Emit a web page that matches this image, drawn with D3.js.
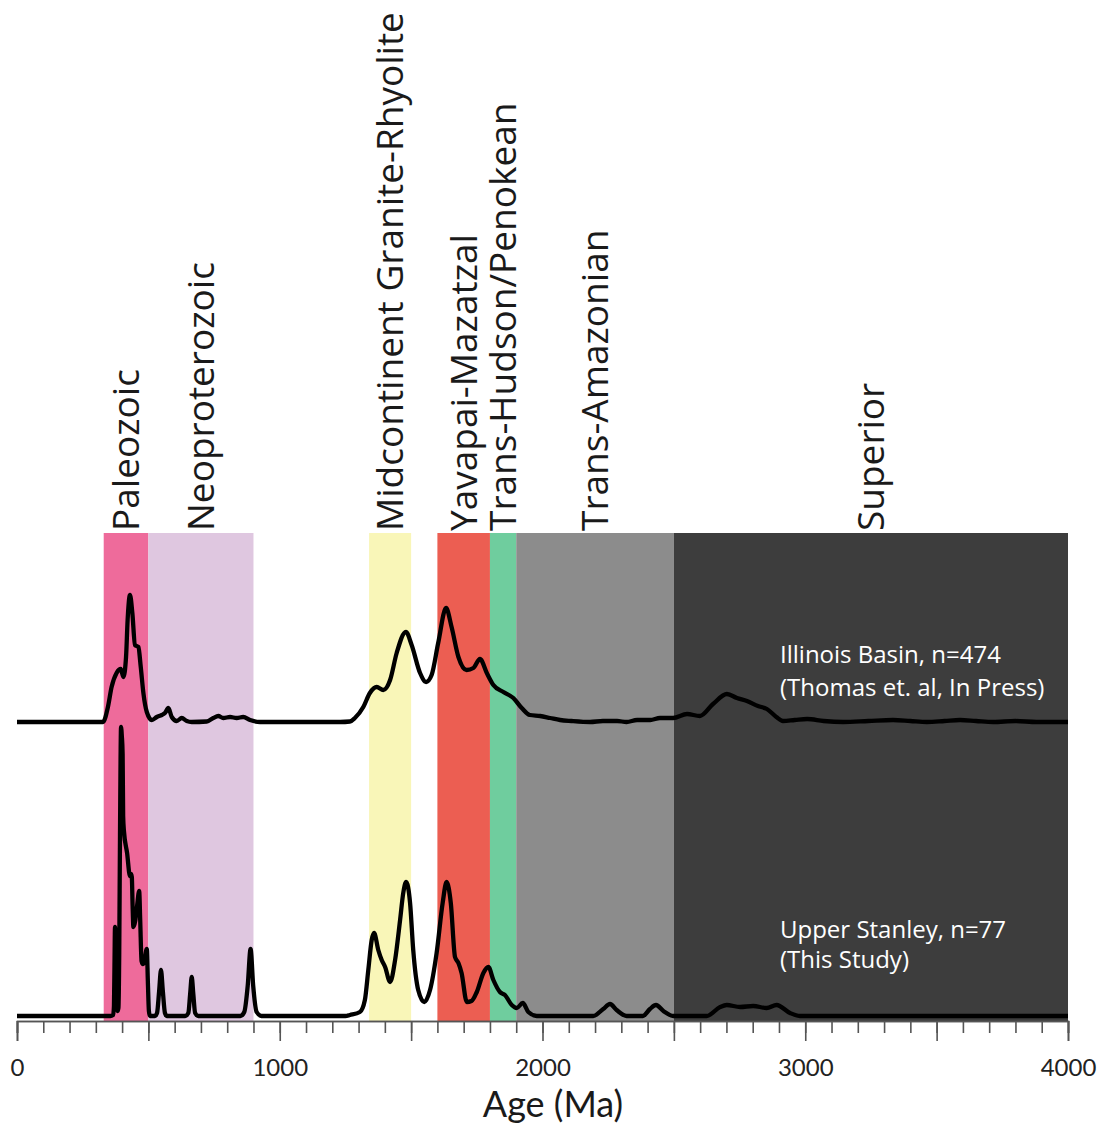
<!DOCTYPE html>
<html>
<head>
<meta charset="utf-8">
<script src="https://cdn.jsdelivr.net/npm/d3@7"></script>
<style>
  html, body { margin: 0; padding: 0; background: #fff; }
  svg { display: block; font-family: "Open Sans", "Noto Sans", sans-serif; }
</style>
</head>
<body>
<svg id="chart" width="1104" height="1125"></svg>
<script>
// Crustal provinces (age ranges in Ma)
const provinceNames = ["Paleozoic", "Neoproterozoic", "Midcontinent Granite-Rhyolite",
  "Yavapai-Mazatzal", "Trans-Hudson/Penokean", "Trans-Amazonian", "Superior"];
const provinceStart = [330, 500, 1340, 1600, 1800, 1900, 2500];
const provinceEnd   = [500, 900, 1500, 1800, 1900, 2500, 4000];
const provinceColors = ["#ee6b9b", "#dfc7e0", "#f9f6b8", "#ec5e52", "#6fcd9e", "#8c8c8c", "#3d3d3d"];

// Axis ticks (Ma)
const minorTicks = d3.range(0, 4001, 100);
const majorTicks = [0, 500, 1000, 1500, 2000, 2500, 3000, 3500, 4000];
const tickLabels = ["0", "", "1000", "", "2000", "", "3000", "", "4000"];

// Relative probability curves: [age (Ma), relative probability]
const illinoisPdp = [
  [0,0],[300,0],[327,0],[346,15],[360,35],[379,49],[395,53],[405,45],[415,65],[421,102],
  [430,127],[439,109],[449,77],[462,75],[471,55],[481,29],[494,10],[513,2],[532,5],[551,7],
  [563,9],[576,14],[589,5],[608,1],[627,4],[646,1],[665,0],[722,0.5],[747,4],[766,6],
  [785,4],[811,5],[836,4],[861,5],[887,2],[925,0],[1230,0],[1267,0.5],[1286,4],[1318,15],
  [1343,29],[1369,35],[1394,32],[1420,42],[1445,69],[1480,90],[1502,77],[1534,49],[1557,40],
  [1578,47],[1603,79],[1633,114],[1654,95],[1680,65],[1711,52],[1737,54],[1762,63],[1788,49],
  [1813,37],[1851,30],[1889,24],[1921,14],[1952,7],[1991,6],[2029,4],[2067,2],[2110,1],
  [2181,0],[2230,1],[2284,1],[2320,0],[2360,2],[2410,2],[2447,4],[2497,4],[2550,8],[2599,6],
  [2649,18],[2702,28],[2740,24],[2778,21],[2820,16],[2854,13],[2890,5],[2915,1],[2960,2],
  [3007,3],[3070,1],[3144,0],[3240,1],[3334,2],[3400,1],[3463,0],[3530,1],[3589,2],[3650,1],
  [3715,0],[3800,1],[3880,0],[4000,0]
];
const stanleyPdp = [
  [0,0],[355,0],[366,1],[369,10],[371,50],[373,89],[376,60],[379,20],[383,5],[386,8],
  [389,60],[392,180],[396,289],[399,280],[402,262],[404,200],[407,185],[419,163],[430,140],
  [434,142],[437,139],[440,110],[443,89],[450,95],[457,110],[465,125],[469,95],[474,55],
  [479,52],[485,55],[494,67],[498,35],[502,5],[506,0],[525,0],[533,3],[541,25],[548,46],
  [555,25],[563,3],[570,0],[640,0],[652,3],[659,22],[665,39],[671,22],[678,3],[690,0],
  [850,0],[865,4],[878,30],[889,67],[899,30],[912,4],[930,0],[1250,0],[1267,1],[1305,4],
  [1324,16],[1337,46],[1350,76],[1359,83],[1375,66],[1388,56],[1401,49],[1420,34],[1439,56],
  [1458,96],[1470,123],[1481,134],[1496,113],[1508,66],[1527,26],[1550,14],[1572,26],
  [1597,63],[1620,113],[1635,134],[1651,113],[1667,59],[1680,53],[1692,43],[1712,14],
  [1730,15],[1750,24],[1775,43],[1794,49],[1813,36],[1838,24],[1857,21],[1883,11],[1902,8],
  [1925,13],[1946,4],[1978,0],[2193,0],[2231,7],[2257,12],[2282,6],[2320,0],[2382,0],
  [2409,7],[2432,11],[2460,5],[2498,0],[2625,0],[2676,9],[2701,11],[2752,9],[2802,10],
  [2853,8],[2891,11],[2942,3],[2980,0],[4000,0]
];
const illinoisLabel = ["Illinois Basin, n=474", "(Thomas et. al, In Press)"];
const stanleyLabel = ["Upper Stanley, n=77", "(This Study)"];
const axisTitle = "Age (Ma)";

// ---- layout ----
const svg = d3.select("#chart");
const axisY = 1021, bandTop = 533;
const x = d3.scaleLinear().domain([0, 4000]).range([17, 1068]);
const yIllinois = d3.scaleLinear().domain([0, 100]).range([722, 622]);
const yStanley  = d3.scaleLinear().domain([0, 100]).range([1016, 916]);

svg.append("rect").attr("width", 1104).attr("height", 1125).attr("fill", "#fff");

// province bands
svg.append("g").selectAll("rect")
  .data(provinceNames)
  .join("rect")
  .attr("x", (d, i) => x(provinceStart[i]))
  .attr("y", bandTop)
  .attr("width", (d, i) => x(provinceEnd[i]) - x(provinceStart[i]))
  .attr("height", axisY - bandTop)
  .attr("fill", (d, i) => provinceColors[i]);

// province labels, written upward above each band
svg.append("g").selectAll("text")
  .data(provinceNames)
  .join("text")
  .attr("transform", (d, i) => `translate(${x((provinceStart[i] + provinceEnd[i]) / 2)},531) rotate(-90)`)
  .attr("dy", "0.36em")
  .attr("font-size", 37)
  .attr("fill", "#1a1a1a")
  .text(d => d);

// axis: minor ticks every 100 Ma, major every 500 Ma
const minorAxis = d3.axisBottom(x).tickValues(minorTicks).tickSize(12).tickFormat("");
const majorAxis = d3.axisBottom(x).tickValues(majorTicks).tickSize(20).tickPadding(18)
  .tickFormat((d, i) => tickLabels[i]);
const gMinor = svg.append("g").attr("transform", `translate(0,${axisY})`).call(minorAxis);
const gMajor = svg.append("g").attr("transform", `translate(0,${axisY})`).call(majorAxis);
[gMinor, gMajor].forEach(g => {
  g.select(".domain").attr("stroke", "#555").attr("stroke-width", 1.6);
  g.selectAll(".tick line").attr("stroke", "#555").attr("stroke-width", 1.6);
});
gMajor.selectAll(".tick text")
  .attr("font-size", 24).attr("fill", "#222")
  .attr("font-family", "Lato, \"Open Sans\", sans-serif");

svg.append("text")
  .attr("x", 553).attr("y", 1117)
  .attr("text-anchor", "middle")
  .attr("font-family", "Lato, \"Open Sans\", sans-serif")
  .attr("font-size", 36).attr("fill", "#1a1a1a")
  .text(axisTitle);

// probability curves
function drawCurve(data, yScale) {
  const line = d3.line()
    .x(d => x(d[0]))
    .y(d => yScale(d[1]))
    .curve(d3.curveMonotoneX);
  svg.append("path")
    .datum(data)
    .attr("d", line)
    .attr("fill", "none")
    .attr("stroke", "#000")
    .attr("stroke-width", 4.3)
    .attr("stroke-linejoin", "round")
    .attr("stroke-linecap", "butt");
}
drawCurve(illinoisPdp, yIllinois);
drawCurve(stanleyPdp, yStanley);

// sample labels
function drawLabel(lines, x0, y0, lh) {
  const t = svg.append("text").attr("font-size", 24).attr("fill", "#fff");
  lines.forEach((s, i) => t.append("tspan").attr("x", x0).attr("y", y0 + i * lh).text(s));
}
drawLabel(illinoisLabel, 780, 663, 33);
drawLabel(stanleyLabel, 780, 938, 30);
</script>
</body>
</html>
